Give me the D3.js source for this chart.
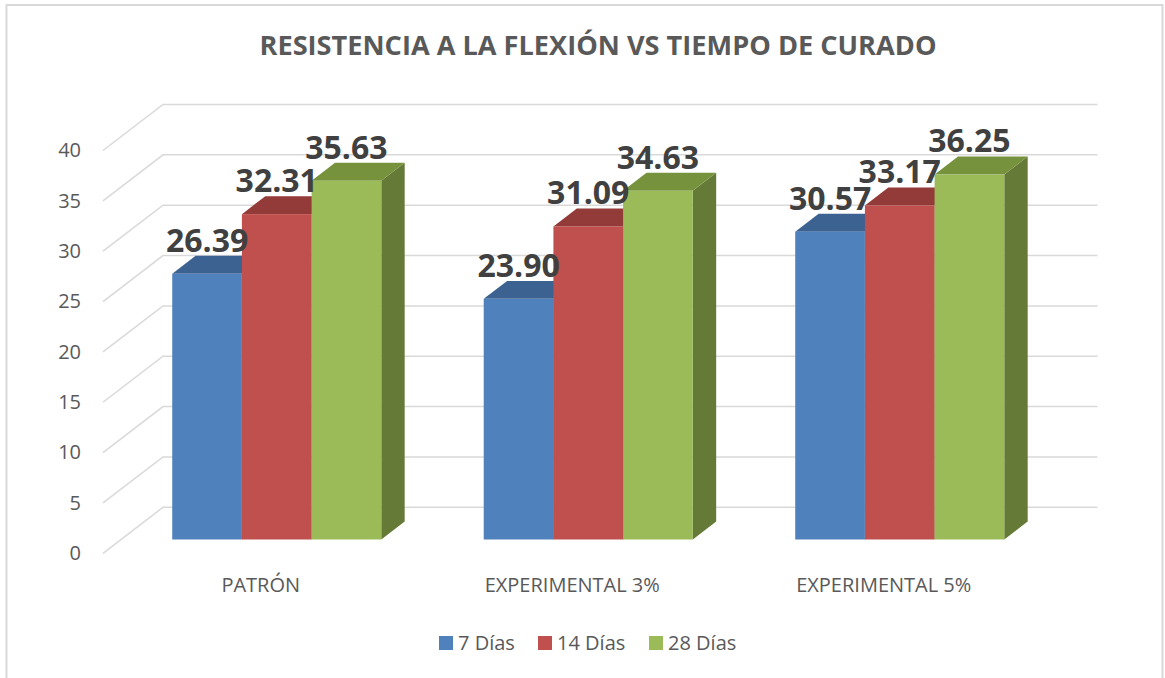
<!DOCTYPE html>
<html>
<head>
<meta charset="utf-8">
<script src="https://cdn.jsdelivr.net/npm/d3@7"></script>
<style>
  html, body { margin: 0; padding: 0; background: #fff; }
  svg { display: block; }
  text { font-family: "Open Sans", sans-serif; }
</style>
</head>
<body>
<svg id="chart" width="1165" height="678"></svg>
<script>
// ---- data ----
const title = "RESISTENCIA A LA FLEXIÓN VS TIEMPO DE CURADO";
const categories = ["PATRÓN", "EXPERIMENTAL 3%", "EXPERIMENTAL 5%"];
const seriesNames = ["7 Días", "14 Días", "28 Días"];
const dias7  = [26.39, 23.90, 30.57];
const dias14 = [32.31, 31.09, 33.17];
const dias28 = [35.63, 34.63, 36.25];
const seriesValues = [dias7, dias14, dias28];
const yTicks = [0, 5, 10, 15, 20, 25, 30, 35, 40];

// ---- styles ----
const frontColors = ["#4F81BD", "#C0504D", "#9BBB59"];
const topColors   = ["#3C6291", "#923B39", "#76923C"];
const sideColors  = ["#37587F", "#843533", "#657A37"];

const svg = d3.select("#chart");

// chart border
svg.append("rect").attr("x", 6.5).attr("y", 5).attr("width", 1156).attr("height", 690)
  .attr("fill", "none").attr("stroke", "#D9D9D9").attr("stroke-width", 2);

// ---- pseudo-3D projection ----
const floorX0 = 103, floorX1 = 1037.5;
const depthDX = 60, depthDY = -46;
const y = d3.scaleLinear().domain([0, 40]).range([553.3, 150.5]);
const P = (xf, v, d) => [xf + depthDX * d, y(v) + depthDY * d];

const x0 = d3.scaleBand().domain(categories).range([floorX0, floorX1]).paddingInner(0).paddingOuter(0);
const x1 = d3.scaleBand().domain(d3.range(seriesNames.length)).range([0, x0.bandwidth()])
  .paddingInner(0).paddingOuter(0.735);

const dFront = 0.30, dBack = 0.69;

// gridlines: side wall diagonals and back wall horizontals
const grid = svg.append("g").attr("stroke", "#D9D9D9").attr("stroke-width", 1.5).attr("fill", "none");
yTicks.forEach(v => {
  const a = P(floorX0, v, 0), b = P(floorX0, v, 1), c = P(floorX1, v, 1);
  grid.append("polyline").attr("points", [a, b, c].map(p => p.join(",")).join(" "));
});

// y tick labels
svg.append("g").selectAll("text").data(yTicks).join("text")
  .attr("x", 81).attr("y", d => y(d) + 1.5)
  .attr("text-anchor", "end").attr("dominant-baseline", "middle")
  .attr("font-size", 20).attr("fill", "#595959")
  .text(d => d);

// bars
const poly = pts => pts.map(p => p.join(",")).join(" ");
const barsG = svg.append("g");
const labels = [];
categories.forEach((cat, ci) => {
  seriesValues.forEach((vals, si) => {
    const v = vals[ci];
    const xl = x0(cat) + x1(si), xr = xl + x1.bandwidth();
    // side face
    barsG.append("polygon").attr("fill", sideColors[si])
      .attr("points", poly([P(xr, 0, dFront), P(xr, 0, dBack), P(xr, v, dBack), P(xr, v, dFront)]));
    // top face
    barsG.append("polygon").attr("fill", topColors[si])
      .attr("points", poly([P(xl, v, dFront), P(xr, v, dFront), P(xr, v, dBack), P(xl, v, dBack)]));
    // front face
    const fl = P(xl, v, dFront), fr = P(xr, 0, dFront);
    barsG.append("rect").attr("fill", frontColors[si])
      .attr("x", fl[0]).attr("y", fl[1]).attr("width", fr[0] - fl[0]).attr("height", fr[1] - fl[1]);
    labels.push({ x: (fl[0] + fr[0]) / 2, y: fl[1] - 22, t: v.toFixed(2) });
  });
});

// data labels
svg.append("g").selectAll("text").data(labels).join("text")
  .attr("x", d => d.x).attr("y", d => d.y)
  .attr("text-anchor", "middle").attr("font-size", 32).attr("font-weight", "bold")
  .attr("fill", "#404040").text(d => d.t);

// category labels
svg.append("g").selectAll("text").data(categories).join("text")
  .attr("x", d => x0(d) + x0.bandwidth() / 2 + 2).attr("y", 592)
  .attr("text-anchor", "middle").attr("font-size", 20).attr("fill", "#595959")
  .text(d => d);

// title
svg.append("text").attr("x", 598).attr("y", 55).attr("text-anchor", "middle")
  .attr("font-size", 27.5).attr("font-weight", "bold").attr("fill", "#595959")
  .attr("textLength", 677).attr("lengthAdjust", "spacingAndGlyphs")
  .text(title);

// legend
const legendX = [439, 538, 649];
const lg = svg.append("g").selectAll("g").data(seriesNames).join("g")
  .attr("transform", (d, i) => `translate(${legendX[i]},636)`);
lg.append("rect").attr("width", 14).attr("height", 14).attr("fill", (d, i) => frontColors[i]);
lg.append("text").attr("x", 19).attr("y", 14).attr("font-size", 20).attr("fill", "#595959").text(d => d);
</script>
</body>
</html>
